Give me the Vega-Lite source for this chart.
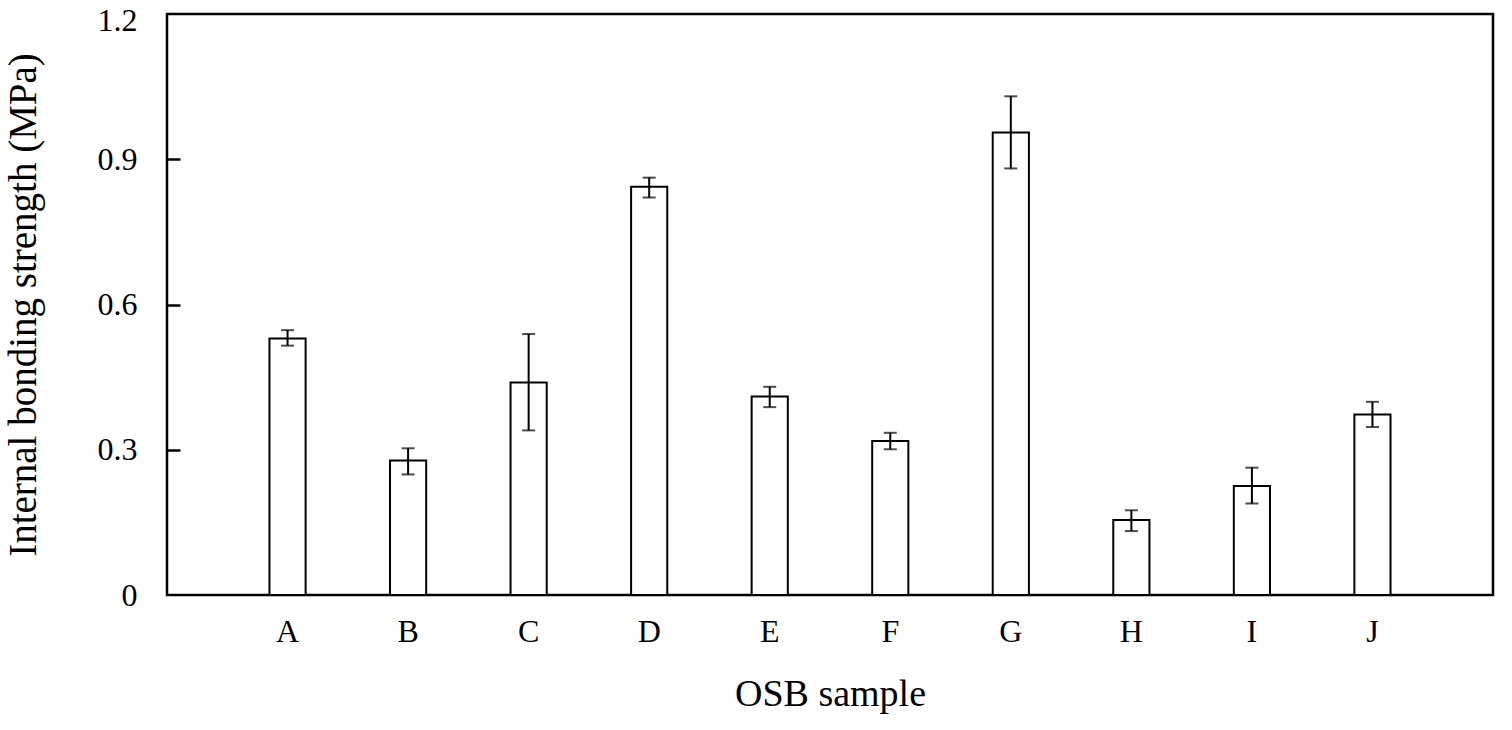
{
  "$schema": "https://vega.github.io/schema/vega-lite/v6.json",
  "autosize": "none",
  "width": 1326,
  "height": 581,
  "padding": {"left": 167, "top": 14, "right": 19, "bottom": 135},
  "background": "white",
  "config": {
    "font": "Liberation Serif",
    "view": {"stroke": "black", "strokeWidth": 2.5},
    "axis": {"grid": false, "domain": false, "labelColor": "black", "titleColor": "black", "labelFont": "Liberation Serif", "titleFont": "Liberation Serif", "titleFontWeight": "normal"}
  },
  "resolve": {"axis": {"y": "independent"}},
  "data": {
    "values": [
      {"sample": "A", "mean": 0.530, "lo": 0.515, "hi": 0.547},
      {"sample": "B", "mean": 0.278, "lo": 0.249, "hi": 0.303},
      {"sample": "C", "mean": 0.439, "lo": 0.340, "hi": 0.539},
      {"sample": "D", "mean": 0.843, "lo": 0.821, "hi": 0.862},
      {"sample": "E", "mean": 0.410, "lo": 0.388, "hi": 0.430},
      {"sample": "F", "mean": 0.318, "lo": 0.301, "hi": 0.335},
      {"sample": "G", "mean": 0.955, "lo": 0.881, "hi": 1.030},
      {"sample": "H", "mean": 0.155, "lo": 0.132, "hi": 0.175},
      {"sample": "I", "mean": 0.225, "lo": 0.189, "hi": 0.263},
      {"sample": "J", "mean": 0.373, "lo": 0.347, "hi": 0.399}
    ]
  },
  "encoding": {
    "x": {
      "field": "sample", "type": "nominal", "sort": null,
      "scale": {"paddingInner": 0.7, "paddingOuter": 0.85},
      "axis": {"title": "OSB sample", "labelAngle": 0, "ticks": false, "labelFontSize": 32, "labelPadding": 21, "titleFontSize": 38, "titlePadding": 28}
    }
  },
  "layer": [
    {
      "mark": {"type": "bar", "fill": "white", "stroke": "black", "strokeWidth": 2},
      "encoding": {
        "y": {
          "field": "mean", "type": "quantitative",
          "scale": {"domain": [0, 1.2], "nice": false},
          "axis": {"orient": "left", "title": "Internal bonding strength (MPa)", "values": [0, 0.3, 0.6, 0.9, 1.2], "format": "~g", "ticks": false, "labelFontSize": 32, "labelPadding": 30, "labelOffset": {"condition": {"test": "datum.value == 1.2", "value": 6}, "value": 0}, "titleFontSize": 39, "titlePadding": 54}
        }
      }
    },
    {
      "mark": {"type": "rule", "color": "black", "strokeWidth": 2},
      "encoding": {
        "y": {
          "field": "lo", "type": "quantitative",
          "axis": {"orient": "left", "title": null, "labels": false, "values": [0.3, 0.6, 0.9], "ticks": true, "tickSize": 13, "tickWidth": 2.5, "tickColor": "black", "offset": -13}
        },
        "y2": {"field": "hi"}
      }
    },
    {
      "mark": {"type": "tick", "color": "black", "size": 13, "thickness": 2},
      "encoding": {"y": {"field": "lo", "type": "quantitative", "axis": null}}
    },
    {
      "mark": {"type": "tick", "color": "black", "size": 13, "thickness": 2},
      "encoding": {"y": {"field": "hi", "type": "quantitative", "axis": null}}
    }
  ]
}
